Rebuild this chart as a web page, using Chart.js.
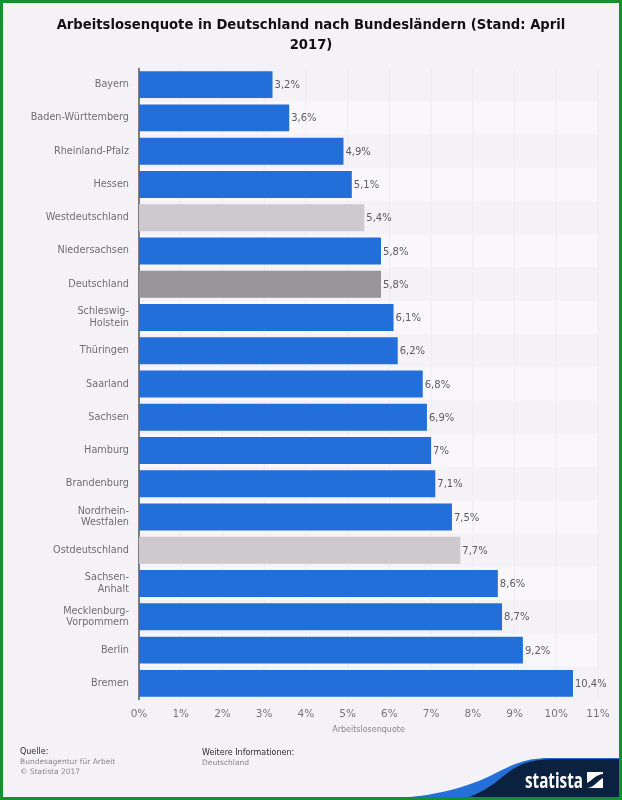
<!DOCTYPE html>
<html>
<head>
<meta charset="utf-8">
<script src="https://cdn.jsdelivr.net/npm/chart.js@4/dist/chart.umd.min.js"></script>
<style>
  html, body { margin: 0; padding: 0; background: #f4f2f6; }
  #frame { position: relative; width: 622px; height: 800px; overflow: hidden; font-family: "DejaVu Sans", sans-serif; }
  #frame canvas { position: absolute; left: 0; top: 0; }
  #border { position: absolute; inset: 0; border: 3px solid #13902f; box-sizing: border-box; pointer-events: none; }
  #title { position: absolute; left: 0; top: 15px; width: 622px; text-align: center; font-size: 13.2px; line-height: 20px; font-weight: bold; color: #111114; white-space: nowrap; }
  .note { position: absolute; font-size: 7.5px; line-height: 10px; color: #88868c; white-space: nowrap; }
  .note b { font-weight: normal; font-size: 8px; color: #2b2b30; display: block; line-height: 11px; }
  #logo { position: absolute; left: 400px; top: 755px; }
</style>
</head>
<body>
<div id="frame">
  <canvas id="chart" width="622" height="800"></canvas>
  <div id="title">Arbeitslosenquote in Deutschland nach Bundesländern (Stand: April<br>2017)</div>
  <div class="note" style="left:20px; top:746px;"><b>Quelle:</b>Bundesagentur für Arbeit<br>© Statista 2017</div>
  <div class="note" style="left:202px; top:747px;"><b>Weitere Informationen:</b>Deutschland</div>
  <svg id="logo" width="222" height="45" viewBox="0 0 222 45">
    <path d="M0 43 C40 40 70 31 92 20 C112 10 124 3 150 3 L222 3 L222 45 L0 45 Z" fill="#2470d8"/>
    <path d="M60 45 C78 40 92 31 106 19 C118 9 130 5 152 4 L222 4 L222 45 Z" fill="#0b2140"/>
    <text x="125" y="33" font-family="'Open Sans', 'DejaVu Sans', sans-serif" font-size="21" font-weight="700" fill="#ffffff" textLength="58" lengthAdjust="spacingAndGlyphs">statista</text>
    <path d="M187 17 L203 17 L203 19 C195 20 193 25 187 28 Z M187 33 C195 32 197 26 203 23 L203 33 Z" fill="#ffffff"/>
  </svg>
  <div id="border"></div>
</div>
<script>
const categories = [
  'Bayern', 'Baden-Württemberg', 'Rheinland-Pfalz', 'Hessen', 'Westdeutschland',
  'Niedersachsen', 'Deutschland', ['Schleswig-', 'Holstein'], 'Thüringen', 'Saarland',
  'Sachsen', 'Hamburg', 'Brandenburg', ['Nordrhein-', 'Westfalen'], 'Ostdeutschland',
  ['Sachsen-', 'Anhalt'], ['Mecklenburg-', 'Vorpommern'], 'Berlin', 'Bremen'
];
const quote = [3.2, 3.6, 4.9, 5.1, 5.4, 5.8, 5.8, 6.1, 6.2, 6.8, 6.9, 7, 7.1, 7.5, 7.7, 8.6, 8.7, 9.2, 10.4];
const lightRows = ['Westdeutschland', 'Ostdeutschland'];
const darkRows = ['Deutschland'];
const xTicks = [0, 1, 2, 3, 4, 5, 6, 7, 8, 9, 10, 11];

const BLUE = '#226fd9';

function barColor(name) {
    if (lightRows.includes(name)) return '#cdc9ce';
    if (darkRows.includes(name)) return '#98949a';
    return BLUE;
}

// alternating row stripes behind the bars
const rowStripes = {
    id: 'rowStripes',
    beforeDatasetsDraw(chart) {
        const { ctx, chartArea, scales } = chart;
        const band = scales.y.getPixelForValue(1) - scales.y.getPixelForValue(0);
        ctx.save();
        categories.forEach((c, i) => {
            ctx.fillStyle = i % 2 === 0 ? '#f4f2f6' : '#f9f7fb';
            ctx.fillRect(chartArea.left, scales.y.getPixelForValue(i) - band / 2, chartArea.width, band);
        });
        ctx.strokeStyle = '#edecf0';
        ctx.lineWidth = 1;
        xTicks.forEach(t => {
            if (t === 0) return;
            const x = scales.x.getPixelForValue(t);
            ctx.beginPath();
            ctx.moveTo(x, chartArea.top);
            ctx.lineTo(x, chartArea.bottom);
            ctx.stroke();
        });
        ctx.strokeStyle = '#55555c';
        ctx.lineWidth = 1.5;
        ctx.beginPath();
        ctx.moveTo(chartArea.left, chartArea.top);
        ctx.lineTo(chartArea.left, chartArea.bottom);
        ctx.stroke();
        ctx.restore();
    }
};

// "3,2%" style labels at the bar ends
const valueLabels = {
    id: 'valueLabels',
    afterDatasetsDraw(chart) {
        const { ctx } = chart;
        ctx.save();
        ctx.font = '10px "DejaVu Sans"';
        ctx.fillStyle = '#5c5b60';
        ctx.textBaseline = 'middle';
        chart.getDatasetMeta(0).data.forEach((bar, i) => {
            ctx.fillText(String(quote[i]).replace('.', ',') + '%', bar.x + 2, bar.y + 1);
        });
        ctx.restore();
    }
};

new Chart(document.getElementById('chart'), {
    type: 'bar',
    data: {
        labels: categories,
        datasets: [{
            data: quote,
            backgroundColor: categories.map(barColor),
            categoryPercentage: 0.81,
            barPercentage: 1
        }]
    },
    options: {
        indexAxis: 'y',
        responsive: false,
        animation: false,
        layout: { padding: { top: 68, left: 0, right: 24, bottom: 65 } },
        plugins: {
            legend: { display: false },
            tooltip: { enabled: false },
            title: { display: false }
        },
        scales: {
            x: {
                min: 0,
                max: 11,
                grid: { display: false },
                border: { display: false },
                afterBuildTicks(axis) { axis.ticks = xTicks.map(v => ({ value: v })); },
                afterFit(axis) { axis.height = 35; },
                ticks: {
                    color: '#77757b',
                    padding: 0,
                    maxRotation: 0,
                    font: { family: 'DejaVu Sans', size: 10.5 },
                    callback: v => v + '%'
                },
                title: {
                    display: true,
                    text: 'Arbeitslosenquote',
                    color: '#88868c',
                    font: { family: 'DejaVu Sans', size: 8 },
                    padding: { top: 0, bottom: 0 }
                }
            },
            y: {
                grid: { display: false },
                border: { display: false },
                afterFit(axis) { axis.width = 139; },
                ticks: {
                    color: '#6f6d73',
                    padding: 2,
                    autoSkip: false,
                    font: { family: 'DejaVu Sans', size: 9.7, lineHeight: 1.2 }
                }
            }
        }
    },
    plugins: [rowStripes, valueLabels]
});
</script>
</body>
</html>
